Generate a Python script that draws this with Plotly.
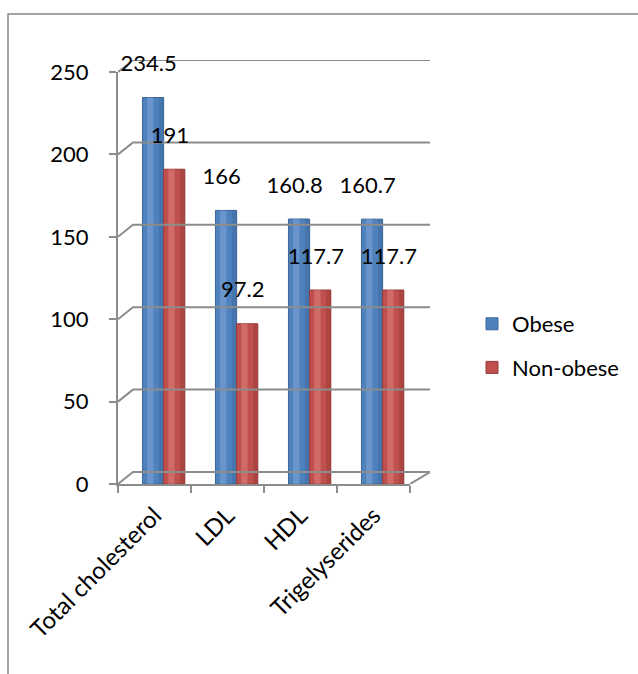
import plotly.graph_objects as go

categories = ["Total cholesterol", "LDL", "HDL", "Trigelyserides"]
obese = [234.5, 166, 160.8, 160.7]
non_obese = [191, 97.2, 117.7, 117.7]
y_ticks = [0, 50, 100, 150, 200, 250]

W, H = 638, 674
FONT = "Lato"
FS = 22
BLUE, RED = "#4F81BD", "#C0504D"
BLUE_D, RED_D = "#3A6596", "#953A38"
BLUE_L, RED_L = "#7FA6D8", "#DC8280"
GRID = "#8C8C8C"


def px_x(p):
    return p / W


def px_y(p):
    return 1 - p / H


idx = list(range(len(categories)))
shift = 0.125      # 3D depth shift of the bars (in category units)
bw = 0.29          # single bar width (category units)

fig = go.Figure()

# ---- back wall / floor frame (drawn first so it sits behind the bars) ----
back_x0 = (133 - 118) / (430 - 118)      # back wall start, in frame x units
front_x1 = (410 - 118) / (430 - 118)     # front floor end, in frame x units
depth_units = 12 / (412 / 250)           # 12 px of depth in value units
gx, gy = [], []
for v in y_ticks:
    gx += [0, back_x0, 1, None]
    gy += [v - depth_units, v, v, None]
gx += [front_x1, 1, None]
gy += [-depth_units, 0, None]
fig.add_trace(go.Scatter(x=gx, y=gy, mode="lines", line=dict(color=GRID, width=2),
                         showlegend=False, hoverinfo="skip",
                         xaxis="x2", yaxis="y2"))


def add_bar(vals, name, color, dark, light, off, show):
    fig.add_trace(go.Bar(
        x=idx, y=vals, name=name, offset=off, width=bw,
        marker=dict(color=color, line=dict(color=dark, width=1)),
        showlegend=show, legendgroup=name, hoverinfo="skip",
        xaxis="x", yaxis="y"))
    # cylinder highlight
    fig.add_trace(go.Bar(
        x=idx, y=vals, offset=off + bw * 0.22, width=bw * 0.3,
        marker=dict(color=light, line=dict(width=0), opacity=0.55),
        showlegend=False, hoverinfo="skip", xaxis="x", yaxis="y"))
    # right side shade
    fig.add_trace(go.Bar(
        x=idx, y=vals, offset=off + bw * 0.78, width=bw * 0.22,
        marker=dict(color=dark, line=dict(width=0), opacity=0.45),
        showlegend=False, hoverinfo="skip", xaxis="x", yaxis="y"))

add_bar(obese, "Obese", BLUE, BLUE_D, BLUE_L, shift - bw, True)
add_bar(non_obese, "Non-obese", RED, RED_D, RED_L, shift, True)

# data labels on a shifted (same-scale) axis so they sit above the bar tops
lab_off = -0.06
for vals in (obese, non_obese):
    side = -1 if vals is obese else 1
    fig.add_trace(go.Scatter(
        x=[i + shift + side * bw / 2 + lab_off for i in idx], y=vals,
        text=[f"{v:g}" for v in vals], mode="text", textposition="middle center",
        textfont=dict(family=FONT, size=FS, color="black"), cliponaxis=False,
        showlegend=False, hoverinfo="skip", xaxis="x3", yaxis="y3"))

x_front = [px_x(118), px_x(410)]
y_front = [px_y(484), px_y(72)]
lab_shift = 32

fig.update_layout(
    template="none",
    width=W, height=H,
    margin=dict(l=0, r=0, t=0, b=0, autoexpand=False),
    paper_bgcolor="white", plot_bgcolor="rgba(0,0,0,0)",
    barmode="overlay",
    font=dict(family=FONT, size=FS, color="black"),
    xaxis2=dict(domain=[px_x(118), px_x(430)], range=[0, 1], visible=False,
                anchor="y2", fixedrange=True, automargin=False),
    yaxis2=dict(domain=[px_y(484), px_y(60)], range=[-depth_units, 250],
                anchor="x2", visible=False, automargin=False),
    xaxis=dict(domain=x_front, range=[-0.5, 3.5], anchor="y", automargin=False,
               tickmode="array", tickvals=idx, ticktext=categories,
               tickangle=-45, ticks="", showgrid=False, zeroline=False,
               showline=True, linecolor=GRID, linewidth=2, ticklabelstandoff=6,
               minor=dict(tickvals=[-0.5, 0.5, 1.5, 2.5, 3.5], ticks="outside",
                          ticklen=7, tickcolor=GRID, tickwidth=2, showgrid=False),
               tickfont=dict(family=FONT, size=24)),
    yaxis=dict(domain=y_front, range=[0, 250], anchor="x", automargin=False,
               tickvals=y_ticks, ticks="outside", ticklen=7, tickcolor=GRID,
               tickwidth=2, showgrid=False, zeroline=False, showline=True,
               linecolor=GRID, linewidth=2, ticklabelstandoff=16,
               tickfont=dict(family=FONT, size=FS)),
    xaxis3=dict(domain=x_front, range=[-0.5, 3.5], visible=False, anchor="y3",
                automargin=False),
    yaxis3=dict(domain=[px_y(484 - lab_shift), px_y(72 - lab_shift)],
                range=[0, 250], visible=False, anchor="x3", automargin=False),
    legend=dict(x=px_x(472), y=px_y(303), xanchor="left", yanchor="top",
                traceorder="grouped", tracegroupgap=12,
                font=dict(family=FONT, size=FS), bgcolor="rgba(0,0,0,0)",
                itemwidth=30),
    shapes=[dict(type="rect", xref="paper", yref="paper",
                 x0=px_x(8), x1=1.2, y0=-0.2, y1=px_y(14),
                 line=dict(color="#888888", width=1.5), layer="below")],
)

fig.write_html("out.html")
